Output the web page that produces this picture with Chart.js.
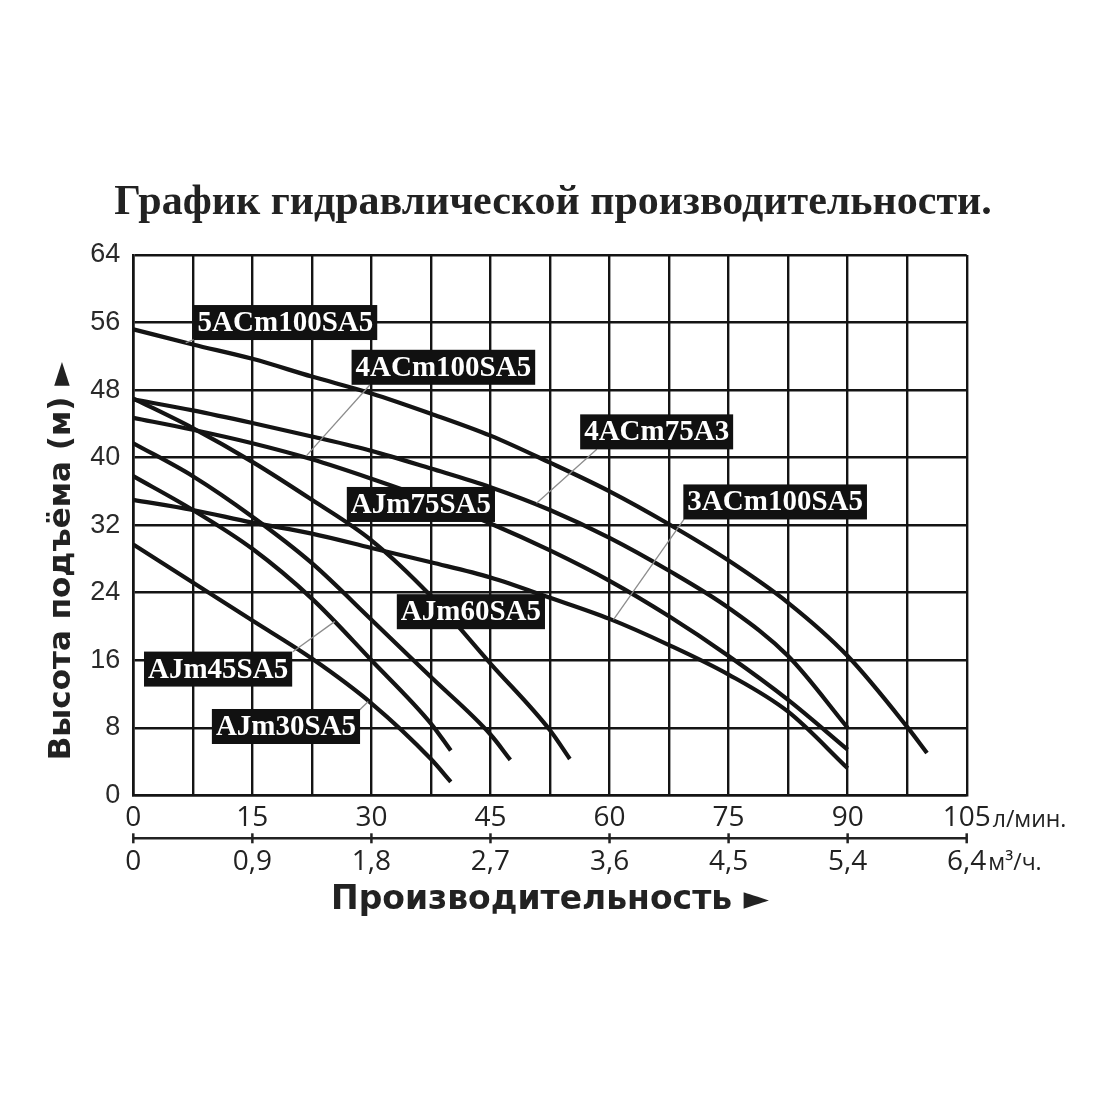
<!DOCTYPE html>
<html><head><meta charset="utf-8">
<script src="https://cdn.jsdelivr.net/npm/chart.js@4.4.1/dist/chart.umd.min.js"></script>
<style>html,body{margin:0;padding:0;background:#fff;}canvas{display:block;}</style>
</head><body>
<canvas id="c" width="1100" height="1100"></canvas>
<script>
// ---------- texts ----------
const chartTitle = 'График гидравлической производительности.';
const yAxisTitle = 'Высота подъёма (м) ►';
const xAxisTitle = 'Производительность ►';
const flowUnit = 'л/мин.';
const volumeUnit = 'м³/ч.';

// ---------- ticks ----------
const headMin = 0, headMax = 64, headStep = 8;
const flowMin = 0, flowMax = 105, flowGridStep = 7.5;
const flowTickValues = [0, 15, 30, 45, 60, 75, 90, 105];
const flowTickLabels = ['0', '15', '30', '45', '60', '75', '90', '105'];
const volumeTickLabels = ['0', '0,9', '1,8', '2,7', '3,6', '4,5', '5,4', '6,4'];

// ---------- series (flow l/min, head m) ----------
const seriesNames = ['5ACm100SA5', '4ACm75A3', '4ACm100SA5', '3ACm100SA5', 'AJm75SA5', 'AJm60SA5', 'AJm45SA5', 'AJm30SA5'];

const flow5ACm100SA5 = [0, 7.5, 15, 22.5, 30, 37.5, 45, 52.5, 60, 67.5, 75, 82.5, 90, 97.5, 100];
const head5ACm100SA5 = [55.2, 53.4, 51.7, 49.6, 47.6, 45.2, 42.6, 39.4, 36.0, 32.1, 27.8, 22.8, 16.5, 8.1, 5.0];

const flow4ACm75A3 = [0, 7.5, 15, 22.5, 30, 37.5, 45, 52.5, 60, 67.5, 75, 82.5, 90];
const head4ACm75A3 = [46.9, 45.6, 44.1, 42.5, 40.8, 38.7, 36.5, 33.8, 30.5, 26.6, 22.2, 16.5, 8.0];

const flow4ACm100SA5 = [0, 7.5, 15, 22.5, 30, 37.5, 45, 52.5, 60, 67.5, 75, 82.5, 90];
const head4ACm100SA5 = [44.7, 43.3, 41.7, 39.8, 37.5, 35.0, 32.2, 29.0, 25.4, 21.2, 16.5, 11.3, 5.4];

const flow3ACm100SA5 = [0, 7.5, 15, 22.5, 30, 37.5, 45, 52.5, 60, 67.5, 75, 82.5, 90];
const head3ACm100SA5 = [35.0, 33.8, 32.3, 31.0, 29.3, 27.6, 25.8, 23.4, 20.9, 17.8, 14.3, 9.9, 3.2];

const flowAJm75SA5 = [0, 7.5, 15, 22.5, 30, 37.5, 45, 52.5, 55];
const headAJm75SA5 = [47.0, 43.5, 39.5, 35.0, 30.2, 23.6, 15.6, 7.7, 4.3];

const flowAJm60SA5 = [0, 7.5, 15, 22.5, 30, 37.5, 45, 47.5];
const headAJm60SA5 = [41.7, 37.8, 33.0, 27.5, 20.8, 14.0, 7.2, 4.2];

const flowAJm45SA5 = [0, 7.5, 15, 22.5, 30, 37.5, 40];
const headAJm45SA5 = [37.8, 33.8, 29.2, 23.3, 16.0, 8.5, 5.3];

const flowAJm30SA5 = [0, 7.5, 15, 22.5, 30, 37.5, 40];
const headAJm30SA5 = [29.7, 25.2, 20.7, 16.2, 10.9, 4.3, 1.6];

const seriesFlows = [flow5ACm100SA5, flow4ACm75A3, flow4ACm100SA5, flow3ACm100SA5, flowAJm75SA5, flowAJm60SA5, flowAJm45SA5, flowAJm30SA5];
const seriesHeads = [head5ACm100SA5, head4ACm75A3, head4ACm100SA5, head3ACm100SA5, headAJm75SA5, headAJm60SA5, headAJm45SA5, headAJm30SA5];

// ---------- callout placement (data units): box left, box centre, leader from -> to ----------
const callouts = [
  { name: '5ACm100SA5', x: 7.6, y: 56.0, leader: [7.7, 54.0, 6.6, 53.6] },
  { name: '4ACm100SA5', x: 27.5, y: 50.7, leader: [29.8, 48.6, 21.8, 40.2] },
  { name: '4ACm75A3', x: 56.3, y: 43.05, leader: [58.4, 41.0, 50.8, 34.6] },
  { name: 'AJm75SA5', x: 26.9, y: 34.45, leader: null },
  { name: '3ACm100SA5', x: 69.3, y: 34.75, leader: [69.4, 32.7, 60.5, 20.8] },
  { name: 'AJm60SA5', x: 33.2, y: 21.75, leader: null },
  { name: 'AJm45SA5', x: 1.35, y: 14.95, leader: [20.1, 17.0, 25.4, 20.6] },
  { name: 'AJm30SA5', x: 9.9, y: 8.15, leader: [28.5, 10.1, 29.6, 11.1] }
];

const INK = '#141414';
const datasets = seriesNames.map((name, i) => ({
  label: name,
  data: seriesFlows[i].map((f, j) => ({ x: f, y: seriesHeads[i][j] })),
  borderColor: INK,
  borderWidth: 4.2,
  pointRadius: 0,
  fill: false,
  cubicInterpolationMode: 'monotone',
  borderCapStyle: 'butt'
}));

function tickIndex(v) {
  const r = Math.round(v * 100) / 100;
  return flowTickValues.indexOf(r);
}

const titlePlugin = {
  id: 'pageTitle',
  afterDraw(chart) {
    const { ctx } = chart;
    ctx.save();
    ctx.fillStyle = '#222';
    ctx.font = 'bold 42px "Liberation Serif", "Times New Roman", serif';
    ctx.textAlign = 'center';
    ctx.textBaseline = 'middle';
    ctx.fillText(chartTitle, 553, 203);
    ctx.restore();
  }
};

const calloutPlugin = {
  id: 'callouts',
  afterDatasetsDraw(chart) {
    const { ctx } = chart;
    const xs = chart.scales.x, ys = chart.scales.y;
    ctx.save();
    ctx.strokeStyle = '#8c8c8c';
    ctx.lineWidth = 1.3;
    callouts.forEach(c => {
      if (!c.leader) return;
      ctx.beginPath();
      ctx.moveTo(xs.getPixelForValue(c.leader[0]), ys.getPixelForValue(c.leader[1]));
      ctx.lineTo(xs.getPixelForValue(c.leader[2]), ys.getPixelForValue(c.leader[3]));
      ctx.stroke();
    });
    ctx.font = 'bold 29px "Liberation Serif", "Times New Roman", serif';
    ctx.textBaseline = 'middle';
    ctx.textAlign = 'left';
    callouts.forEach(c => {
      const w = ctx.measureText(c.name).width + 8;
      const h = 35;
      const left = xs.getPixelForValue(c.x);
      const cy = ys.getPixelForValue(c.y);
      ctx.fillStyle = '#111';
      ctx.fillRect(left, cy - h / 2, w, h);
      ctx.fillStyle = '#fff';
      ctx.fillText(c.name, left + 4, cy + 1);
    });
    ctx.restore();
  }
};

const axisDecorPlugin = {
  id: 'axisDecor',
  afterDraw(chart) {
    const { ctx, chartArea } = chart;
    const xs = chart.scales.x, xs2 = chart.scales.x2;
    ctx.save();
    // middle axis line with ticks between the two label rows
    const yLine = xs.bottom;
    ctx.strokeStyle = '#222';
    ctx.lineWidth = 2.5;
    ctx.beginPath();
    ctx.moveTo(xs.getPixelForValue(flowMin), yLine);
    ctx.lineTo(xs.getPixelForValue(flowMax), yLine);
    ctx.stroke();
    flowTickValues.forEach(v => {
      const px = xs.getPixelForValue(v);
      ctx.beginPath();
      ctx.moveTo(px, yLine - 5);
      ctx.lineTo(px, yLine + 5);
      ctx.stroke();
    });
    // units after the last tick labels
    ctx.fillStyle = '#222';
    ctx.textAlign = 'left';
    ctx.textBaseline = 'alphabetic';
    ctx.font = '28px "Open Sans"';
    const last = xs.getPixelForValue(flowMax);
    const w1 = ctx.measureText(flowTickLabels[flowTickLabels.length - 1]).width;
    const w2 = ctx.measureText(volumeTickLabels[volumeTickLabels.length - 1]).width;
    ctx.font = '23px "Open Sans"';
    ctx.fillText(flowUnit, last + w1 / 2 + 2, xs.top + 32);
    ctx.fillText(volumeUnit, last + w2 / 2 + 2, xs2.top + 32);
    // vertical axis title
    ctx.font = 'bold 31px "DejaVu Sans"';
    ctx.textAlign = 'center';
    ctx.textBaseline = 'middle';
    ctx.translate(62, (chartArea.top + chartArea.bottom) / 2 + 36);
    ctx.rotate(-Math.PI / 2);
    ctx.fillText(yAxisTitle, 0, 0);
    ctx.restore();
  }
};

new Chart(document.getElementById('c'), {
  type: 'line',
  data: { datasets },
  plugins: [titlePlugin, calloutPlugin, axisDecorPlugin],
  options: {
    responsive: false,
    animation: false,
    devicePixelRatio: 1,
    layout: { padding: { left: 0, right: 133.3, top: 255, bottom: 150 } },
    plugins: {
      legend: { display: false },
      tooltip: { enabled: false },
      title: { display: false }
    },
    scales: {
      x: {
        type: 'linear',
        position: 'bottom',
        min: flowMin, max: flowMax,
        afterFit(s) { s.height = 43; },
        ticks: {
          stepSize: flowGridStep,
          autoSkip: false,
          maxRotation: 0,
          padding: 6,
          color: '#222',
          font: { family: '"Open Sans"', size: 28 },
          callback: v => { const i = tickIndex(v); return i >= 0 ? flowTickLabels[i] : ''; }
        },
        grid: { color: INK, lineWidth: 2.4, drawTicks: false },
        border: { display: true, color: INK, width: 2.6 }
      },
      x2: {
        type: 'linear',
        position: 'bottom',
        min: flowMin, max: flowMax,
        afterFit(s) { s.height = 111.7; },
        ticks: {
          stepSize: 15,
          autoSkip: false,
          maxRotation: 0,
          padding: 7,
          color: '#222',
          font: { family: '"Open Sans"', size: 28 },
          callback: v => { const i = tickIndex(v); return i >= 0 ? volumeTickLabels[i] : ''; }
        },
        grid: { display: false, drawTicks: false },
        border: { display: false },
        title: {
          display: true,
          text: xAxisTitle,
          color: '#222',
          font: { family: '"DejaVu Sans"', size: 33, weight: 'bold' },
          padding: { top: 0, bottom: 30 }
        }
      },
      y: {
        type: 'linear',
        min: headMin, max: headMax,
        afterFit(s) { s.width = 133.3; },
        ticks: {
          stepSize: headStep,
          padding: 13,
          color: '#2a2a2a',
          font: { family: '"Liberation Sans", Arial, sans-serif', size: 27 }
        },
        grid: { color: INK, lineWidth: 2.4, drawTicks: false },
        border: { display: true, color: INK, width: 2.6 }
      }
    }
  }
});
</script>
</body></html>
